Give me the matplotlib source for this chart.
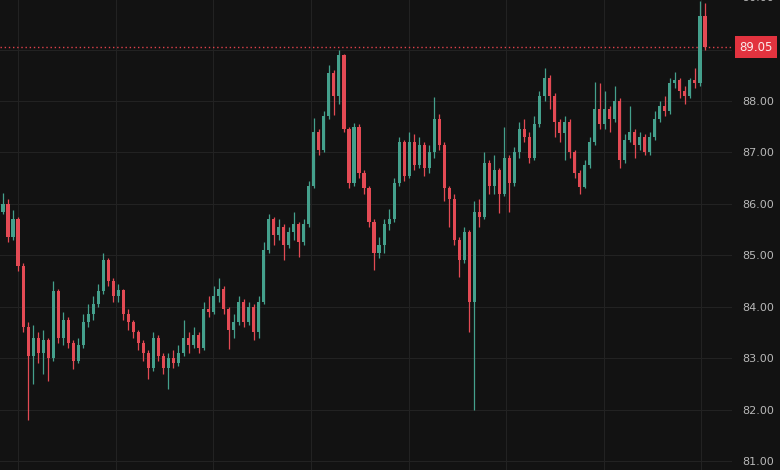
import numpy as np
import matplotlib
matplotlib.use("Agg")
from matplotlib import pyplot as plt
from matplotlib import transforms

# candle data (one candle every ~5 px)
first_open = 85.85
closes = [86.00, 85.35, 85.70, 84.80, 83.60, 83.05, 83.40, 83.10, 83.35, 83.00,
          84.30, 83.40, 83.75, 83.30, 82.95, 83.25, 83.70, 83.85, 84.05, 84.30,
          84.90, 84.50, 84.20, 84.33, 83.85, 83.70, 83.50, 83.30, 83.10, 82.80,
          83.40, 83.05, 82.80, 83.00, 82.90, 83.10, 83.40, 83.25, 83.45, 83.20,
          83.95, 83.90, 84.20, 84.35, 83.95, 83.55, 83.70, 84.10, 83.70, 84.00,
          83.50, 84.10, 85.10, 85.70, 85.40, 85.55, 85.20, 85.45, 85.60, 85.25,
          85.60, 86.35, 87.40, 87.05, 87.70, 88.55, 88.10, 88.90, 87.45, 86.40,
          87.50, 86.60, 86.30, 85.65, 85.05, 85.20, 85.60, 85.70, 86.40, 87.20,
          86.55, 87.20, 86.75, 87.15, 86.70, 87.00, 87.65, 87.15, 86.30, 86.10,
          85.30, 84.90, 85.45, 84.10, 85.85, 85.75, 86.80, 86.35, 86.65, 86.20,
          86.90, 86.40, 87.00, 87.45, 87.30, 86.90, 87.55, 88.10, 88.45, 88.10,
          87.60, 87.38, 87.60, 87.00, 86.60, 86.33, 86.75, 87.20, 87.85, 87.55,
          87.85, 87.65, 88.00, 86.85, 87.25, 87.40, 87.15, 87.30, 87.00, 87.30,
          87.65, 87.90, 87.80, 88.35, 88.40, 88.20, 88.10, 88.40, 88.35, 89.65,
          89.05]
highs = [86.22, 86.10, 85.88, 85.75, 84.85, 83.70, 83.65, 83.50, 83.55, 83.40,
         84.50, 84.35, 83.90, 83.80, 83.35, 83.40, 83.85, 84.05, 84.20, 84.45,
         85.05, 84.95, 84.55, 84.45, 84.35, 83.95, 83.75, 83.55, 83.35, 83.15,
         83.50, 83.45, 83.10, 83.10, 83.15, 83.25, 83.75, 83.50, 83.60, 83.50,
         84.10, 84.20, 84.40, 84.56, 84.40, 84.00, 83.85, 84.20, 84.15, 84.10,
         84.05, 84.20, 85.25, 85.80, 85.75, 85.70, 85.60, 85.55, 85.85, 85.65,
         85.70, 86.45, 87.67, 87.45, 87.80, 88.70, 88.60, 88.99, 88.92, 87.50,
         87.57, 87.55, 86.65, 86.35, 85.70, 85.35, 85.70, 85.90, 86.50, 87.30,
         87.25, 87.40, 87.35, 87.30, 87.20, 87.15, 88.08, 87.75, 87.20, 86.35,
         86.20, 85.35, 85.55, 85.50, 86.05, 86.10, 87.00, 86.85, 86.95, 86.70,
         87.50, 86.95, 87.10, 87.60, 87.65, 87.40, 87.70, 88.20, 88.64, 88.50,
         88.15, 87.65, 87.70, 87.65, 87.05, 86.65, 86.85, 87.30, 88.37, 88.35,
         88.20, 87.90, 88.30, 88.05, 87.35, 87.90, 87.45, 87.40, 87.35, 87.40,
         87.80, 88.00, 88.10, 88.45, 88.56, 88.45, 88.30, 88.45, 88.64, 89.95,
         89.90]
lows = [85.80, 85.25, 85.30, 84.70, 83.50, 81.80, 82.50, 82.90, 82.70, 82.55,
        82.95, 83.30, 83.25, 83.20, 82.78, 82.90, 83.20, 83.60, 83.75, 84.00,
        84.25, 84.40, 84.10, 84.10, 83.75, 83.55, 83.40, 83.15, 82.95, 82.60,
        82.75, 82.95, 82.70, 82.40, 82.80, 82.85, 83.05, 83.10, 83.20, 83.10,
        83.15, 83.80, 83.85, 84.10, 83.85, 83.17, 83.40, 83.65, 83.60, 83.65,
        83.35, 83.40, 84.05, 85.05, 85.20, 85.30, 84.90, 85.15, 85.30, 84.97,
        85.20, 85.55, 86.30, 86.95, 87.00, 87.65, 87.73, 87.95, 87.40, 86.30,
        86.35, 86.50, 86.20, 85.55, 84.72, 84.95, 85.05, 85.50, 85.65, 86.35,
        86.45, 86.50, 86.65, 86.70, 86.55, 86.60, 86.90, 87.05, 86.05, 85.55,
        85.20, 84.58, 84.85, 83.50, 82.00, 85.55, 85.70, 86.20, 86.20, 85.82,
        86.15, 85.85, 86.35, 86.90, 87.20, 86.80, 86.85, 87.50, 88.00, 87.85,
        87.30, 87.20, 86.85, 86.90, 86.50, 86.20, 86.30, 86.70, 87.15, 87.45,
        87.45, 87.40, 87.60, 86.70, 86.80, 87.20, 86.90, 87.05, 86.95, 86.95,
        87.25, 87.60, 87.70, 87.75, 88.25, 88.05, 87.95, 88.05, 88.25, 88.30,
        89.00]
last_price = 89.05
price_ticks = [81, 82, 83, 84, 85, 86, 87, 88, 89]

bg = "#121212"
up_col = "#44a08c"
down_col = "#e34a54"
grid_col = "#222222"
text_col = "#b8b8b8"

c = np.array(closes)
h = np.array(highs)
l = np.array(lows)
o = np.r_[first_open, c[:-1]]
idx = np.arange(len(c))
cols = np.where(c >= o, up_col, down_col)

W, H = 780, 470
fig = plt.figure(figsize=(W / 100, H / 100), dpi=100, facecolor=bg)
ax = fig.add_axes([0, 0, 732 / W, 1])
ax.set_facecolor(bg)

pitch = 5.014
ax.set_xlim(-3 / pitch, (732 - 3) / pitch)
ax.set_ylim(80.825, 89.964)

# grid
ax.set_yticks(price_ticks)
ax.set_xticks(3 + 19.47 * np.arange(8))
ax.grid(True, color=grid_col, lw=0.8)
ax.set_axisbelow(True)
for s in ax.spines.values():
    s.set_visible(False)
ax.tick_params(axis="x", length=0, labelbottom=False)
ax.yaxis.tick_right()
ax.tick_params(axis="y", length=0, pad=7.2, labelsize=8, labelcolor=text_col)
# 89.00 is hidden behind the last-price tag
ax.set_yticklabels(["" if t == 89 else "%.2f" % t for t in price_ticks])

# cut-off top label
ytr = transforms.blended_transform_factory(ax.transAxes, ax.transData)
ax.text(1.0 + 10 / 732, 90.0, "90.00", transform=ytr, color=text_col, fontsize=8,
        ha="left", va="center", clip_on=False)

# candles
ax.vlines(idx, l, h, colors=cols, lw=0.9, zorder=2)
body = np.maximum(np.abs(c - o), 0.02)
ax.bar(idx, body, bottom=np.minimum(o, c), width=0.62, color=cols, lw=0, zorder=3)

# last price line + label
ax.axhline(last_price, color="#e0414b", lw=1.0, ls=(0, (1, 2)), zorder=1)
tr = transforms.blended_transform_factory(fig.transFigure, ax.transData)
fig.text(756 / W, last_price, "%.2f" % last_price, transform=tr, color="#fbeaea",
         fontsize=8.5, ha="center", va="center",
         bbox=dict(boxstyle="square,pad=0.35", fc="#e2333f", ec="none"))

fig.savefig("out.png", dpi=100, facecolor=bg)
